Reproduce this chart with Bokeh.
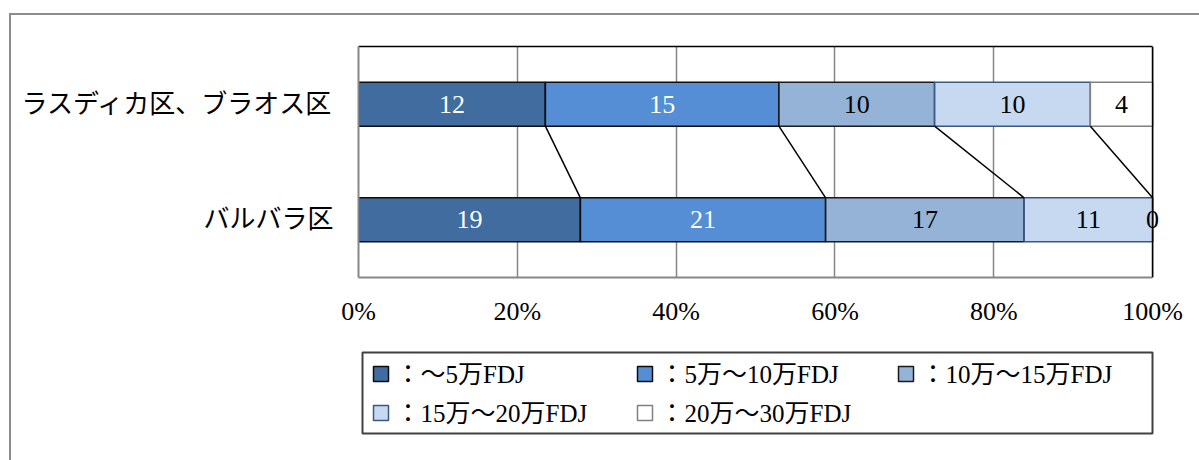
from bokeh.plotting import figure
from bokeh.layouts import column
from bokeh.models import (ColumnDataSource, FactorRange, FixedTicker, NumeralTickFormatter,
                          LinearAxis, Range1d, Span)
from bokeh.core.properties import value
from bokeh.embed import file_html
from bokeh.resources import INLINE

# --- data -------------------------------------------------------------
regions = ["ラスディカ区、ブラオス区", "バルバラ区"]
brackets = ["～5万FDJ", "5万～10万FDJ", "10万～15万FDJ", "15万～20万FDJ", "20万～30万FDJ"]
counts_upper = [12, 15, 10, 10, 4]
counts_lower = [19, 21, 17, 11, 0]
x_ticks = [0, 0.2, 0.4, 0.6, 0.8, 1.0]

# --- styling ----------------------------------------------------------
fills = ["#416c9f", "#558ed5", "#95b3d7", "#c6d9f1", "#ffffff"]
edges = ["#0d0d0d", "#0d0d0d", "#1a1a1a", "#3a5883", "#808080"]
text_colors = ["#ffffff", "#ffffff", "#000000", "#000000", "#000000"]
FONT = "Liberation Serif, Noto Sans CJK JP"
BAR_H = 0.38
W = 1188            # inner width of the bordered chart box
H_CHART = 328
H_LEGEND = 117
LEFT, RIGHT = 347, 31   # side borders shared by both panels

# --- stacked shares ---------------------------------------------------
def cumulative(counts):
    total = float(sum(counts))
    out = [0.0]
    for c in counts:
        out.append(out[-1] + c / total)
    return out

bars = dict(y=[], left=[], right=[], fill=[], line=[], xc=[], txt=[], tc=[])
cums = []
for region, counts in zip(regions, [counts_upper, counts_lower]):
    cum = cumulative(counts)
    cums.append(cum)
    for j, c in enumerate(counts):
        bars["y"].append(region)
        bars["left"].append(cum[j])
        bars["right"].append(cum[j + 1])
        bars["fill"].append(fills[j])
        bars["line"].append(edges[j])
        bars["xc"].append((cum[j] + cum[j + 1]) / 2)
        bars["txt"].append(str(c))
        bars["tc"].append(text_colors[j])
src = ColumnDataSource(bars)

# connector lines between matching boundaries of the two bars
links = dict(x0=[], y0=[], x1=[], y1=[])
for k in range(1, len(fills)):
    links["x0"].append(cums[0][k])
    links["y0"].append((regions[0], -BAR_H / 2))
    links["x1"].append(cums[1][k])
    links["y1"].append((regions[1], BAR_H / 2))
link_src = ColumnDataSource(links)

# --- chart ------------------------------------------------------------
X_END = 1.02   # a little room past 100% so end labels are not cut
p = figure(width=W, height=H_CHART,
           y_range=FactorRange(factors=regions[::-1], range_padding=0),
           x_range=Range1d(0, X_END),
           output_backend="svg", toolbar_location=None,
           min_border_left=LEFT, min_border_right=RIGHT,
           min_border_top=31, min_border_bottom=66)
p.outline_line_color = None
p.background_fill_color = "white"
p.border_fill_color = "white"

p.hbar(y="y", left="left", right="right", height=BAR_H, source=src,
       fill_color="fill", line_color="line", line_width=1.6)
p.segment(x0="x0", y0="y0", x1="x1", y1="y1", source=link_src,
          line_color="black", line_width=1.5)
p.text(x="xc", y="y", text="txt", text_color="tc", source=src,
       text_align="center", text_baseline="middle",
       text_font=value(FONT), text_font_size="26px")

p.xaxis.ticker = FixedTicker(ticks=x_ticks)
p.xaxis.bounds = (0, 1)
p.xaxis.formatter = NumeralTickFormatter(format="0%")
p.xaxis.axis_line_color = "#868686"
p.xaxis.axis_line_width = 2
p.xaxis.major_tick_line_color = None
p.xaxis.minor_tick_line_color = None
p.xaxis.major_label_standoff = 13
p.xaxis.major_label_text_font = FONT
p.xaxis.major_label_text_font_size = "26px"
p.xaxis.major_label_text_color = "#000000"

p.yaxis.axis_line_color = "#868686"
p.yaxis.axis_line_width = 2
p.yaxis.major_tick_line_color = None
p.yaxis.major_label_standoff = 19
p.yaxis.major_label_text_font = FONT
p.yaxis.major_label_text_font_size = "26px"
p.yaxis.major_label_text_color = "#000000"

p.xgrid.grid_line_color = "#868686"
p.xgrid.grid_line_width = 1.5
p.ygrid.grid_line_color = None

# top edge of the plot area (0..100%) and the 100% edge
top_edge = LinearAxis(bounds=(0, 1), ticker=FixedTicker(ticks=[]),
                      axis_line_color="black", axis_line_width=1.5,
                      major_tick_line_color=None, minor_tick_line_color=None,
                      major_label_text_font_size="0px")
p.add_layout(top_edge, "above")
p.add_layout(Span(location=1.0, dimension="height", line_color="black", line_width=1.5))

# --- legend (pixel coordinates, frame aligned with the chart) ---------
q = figure(width=W, height=H_LEGEND,
           x_range=Range1d(LEFT, W - RIGHT), y_range=Range1d(H_LEGEND, 0),
           x_axis_location=None, y_axis_location=None,
           output_backend="svg", toolbar_location=None,
           min_border_left=LEFT, min_border_right=RIGHT,
           min_border_top=0, min_border_bottom=0)
q.grid.visible = False
q.outline_line_color = None
q.background_fill_color = "white"
q.border_fill_color = "white"

q.quad(left=[351], right=[1141], top=[9], bottom=[90],
       fill_color="white", line_color="#404040", line_width=2)

col_x = [362, 626, 887]
row_y = [30.5, 69.5]
leg = dict(x=[], y=[], tx=[], label=[], fill=[], line=[])
for j, name in enumerate(brackets):
    sx = col_x[j % 3]
    sy = row_y[j // 3]
    leg["x"].append(sx + 7.5)
    leg["y"].append(sy)
    leg["tx"].append(sx + 22)
    leg["label"].append("：" + name)
    leg["fill"].append(fills[j])
    leg["line"].append(edges[j])
leg_src = ColumnDataSource(leg)
q.rect(x="x", y="y", width=15, height=15, source=leg_src,
       fill_color="fill", line_color="line", line_width=1.5)
q.text(x="tx", y="y", text="label", source=leg_src,
       text_baseline="middle", text_align="left",
       text_font=value(FONT), text_font_size="25px", text_color="#000000")

page = column(p, q, spacing=0, margin=(13, 0, 0, 9),
              styles={"border-left": "2px solid #8c8c8c",
                      "border-top": "2px solid #8c8c8c"})

open("out.html", "w").write(file_html(page, INLINE))
